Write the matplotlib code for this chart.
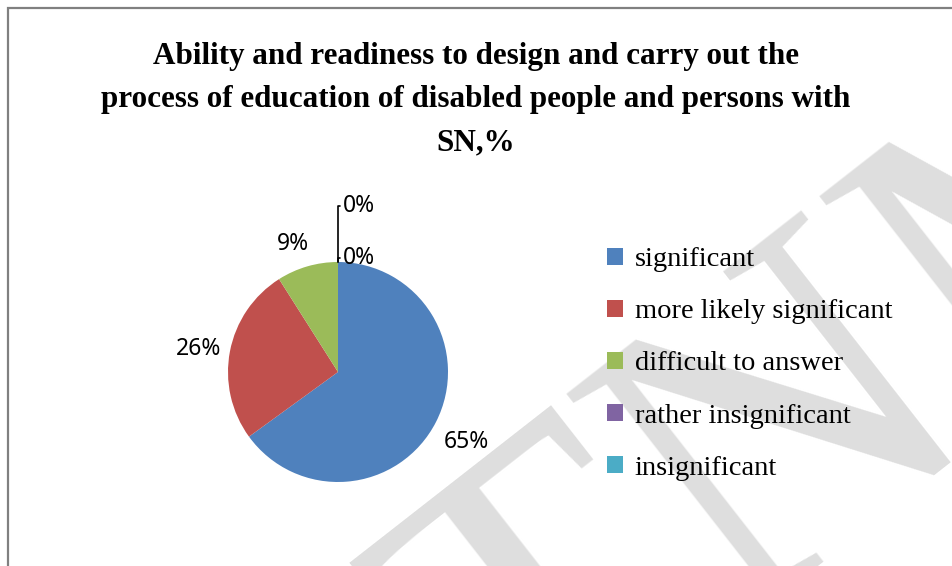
import numpy as np
import matplotlib.pyplot as plt
from matplotlib.patches import Rectangle

# survey answers, %
categories = ['significant', 'more likely significant', 'difficult to answer',
              'rather insignificant', 'insignificant']
shares = [65, 26, 9, 0, 0]
colors = ['#4F81BD', '#C0504D', '#9BBB59', '#8064A2', '#4BACC6']

title = ('Ability and readiness to design and carry out the\n'
         'process of education of disabled people and persons with\n'
         'SN,%')

W, H = 952, 566
fig = plt.figure(figsize=(W / 100, H / 100), dpi=100)

# frame round the chart area
fig.add_artist(Rectangle((8 / W, -0.1), 1.2, 1 - 8 / H + 0.1, transform=fig.transFigure,
                         fill=False, edgecolor='#808080', linewidth=1.6))

# watermark in the background
fig.text(521 / W, 1 - 792 / H, 'TNM', fontsize=320, family='Liberation Serif',
         color='#dedede', rotation=38, rotation_mode='anchor',
         ha='left', va='baseline', zorder=-1)

fig.text(0.5, 1 - 100 / H, title, ha='center', va='center', fontsize=22.4,
         family='Liberation Serif', fontweight='bold', linespacing=1.65)

# pie axes: centre at (338, 372) px, radius 110 px
lim = 1.7
cx, cy, r = 338, 372, 110
ax = fig.add_axes([(cx - lim * r) / W, (H - cy - lim * r) / H, 2 * lim * r / W, 2 * lim * r / H])

wedges, texts = ax.pie(shares, colors=colors, startangle=90, counterclock=False,
                       radius=1, wedgeprops=dict(linewidth=0))
ax.set_xlim(-lim, lim)
ax.set_ylim(-lim, lim)
ax.set_aspect('equal')
ax.axis('off')

# percentage labels outside the slices (distance in radii, nudge in pixels)
dist = [1.33, 1.29, 1.25]
nudge = [(-2, -4), (0, -4), (-7, -4)]
for w, v, d, off in zip(wedges, shares, dist, nudge):
    if v == 0:
        continue
    mid = np.deg2rad((w.theta1 + w.theta2) / 2)
    ax.annotate('%d%%' % v, xy=(d * np.cos(mid), d * np.sin(mid)), xytext=off,
                textcoords='offset pixels', ha='center', va='center',
                fontsize=16.5, family='Noto Sans')

# zero shares sit at the top with leader lines
zero_y = [(cy - 258) / r, (cy - 206) / r]
k = 0
for w, v in zip(wedges, shares):
    if v != 0:
        continue
    ax.annotate('%d%%' % v, xy=(0, 1), xytext=(5 / r, zero_y[k]), ha='left', va='center',
                fontsize=16.5, family='Noto Sans',
                arrowprops=dict(arrowstyle='-', color='black', linewidth=1.2,
                                shrinkA=0, shrinkB=0,
                                connectionstyle='angle,angleA=0,angleB=90,rad=0'))
    k += 1

x0, y0, side = cx - lim * r, H - cy - lim * r, 2 * lim * r
leg = ax.legend(wedges, categories, loc='center left',
                bbox_to_anchor=((607 - x0) / side, (H - 364 - y0) / side),
                frameon=False, prop={'family': 'Liberation Serif', 'size': 20.5},
                handlelength=0.56, handleheight=0.56, handletextpad=0.42,
                labelspacing=0.95, borderaxespad=0, borderpad=0)

fig.savefig('out.png', dpi=100)
